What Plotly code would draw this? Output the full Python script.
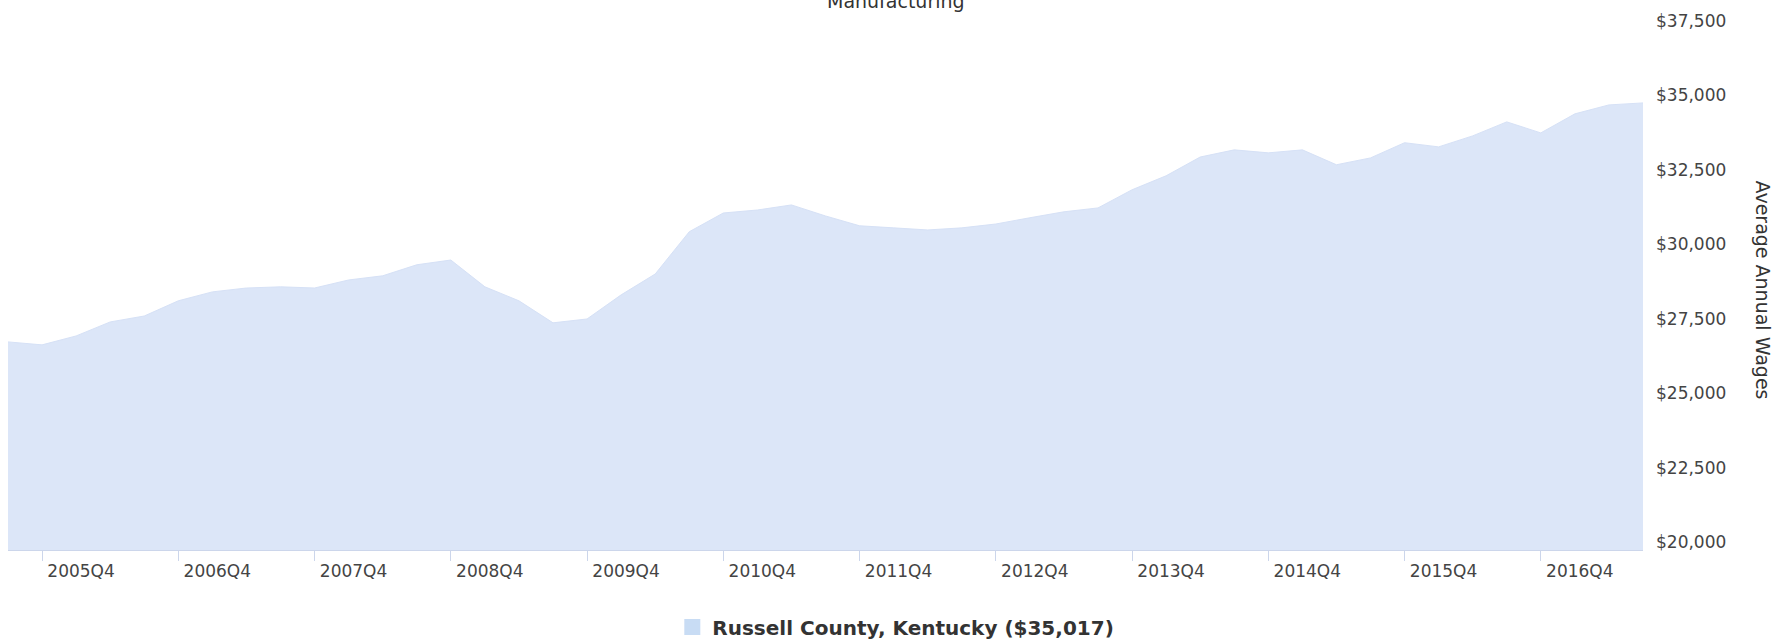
import plotly.graph_objects as go

# ---- data ----
quarters = [
    "2005Q3", "2005Q4", "2006Q1", "2006Q2", "2006Q3", "2006Q4", "2007Q1", "2007Q2",
    "2007Q3", "2007Q4", "2008Q1", "2008Q2", "2008Q3", "2008Q4", "2009Q1", "2009Q2",
    "2009Q3", "2009Q4", "2010Q1", "2010Q2", "2010Q3", "2010Q4", "2011Q1", "2011Q2",
    "2011Q3", "2011Q4", "2012Q1", "2012Q2", "2012Q3", "2012Q4", "2013Q1", "2013Q2",
    "2013Q3", "2013Q4", "2014Q1", "2014Q2", "2014Q3", "2014Q4", "2015Q1", "2015Q2",
    "2015Q3", "2015Q4", "2016Q1", "2016Q2", "2016Q3", "2016Q4", "2017Q1", "2017Q2",
    "2017Q3",
]
wages = [
    26990, 26890, 27190, 27660, 27860, 28370, 28670, 28800,
    28840, 28800, 29070, 29210, 29580, 29740, 28840, 28370,
    27630, 27760, 28570, 29270, 30690, 31320, 31420, 31590,
    31220, 30890, 30820, 30750, 30820, 30950, 31160, 31360,
    31490, 32100, 32570, 33200, 33440, 33340, 33440, 32940,
    33170, 33680, 33540, 33910, 34380, 34010, 34650, 34950,
    35017,
]
x_tick_labels = ["2005Q4", "2006Q4", "2007Q4", "2008Q4", "2009Q4", "2010Q4",
                 "2011Q4", "2012Q4", "2013Q4", "2014Q4", "2015Q4", "2016Q4"]
y_ticks = [20000, 22500, 25000, 27500, 30000, 32500, 35000, 37500]
series_name = "Russell County, Kentucky"
chart_title = "Manufacturing"
y_title = "Average Annual Wages"

FONT = "DejaVu Sans"
FILL = "#dce6f8"

fig = go.Figure()
fig.add_trace(go.Scatter(
    x=quarters, y=wages, mode="lines", fill="tozeroy",
    fillcolor=FILL, line=dict(color="#d6e1f6", width=1),
    showlegend=False, hoverinfo="x+y",
))
# legend entry
fig.add_trace(go.Scatter(
    x=[None], y=[None], mode="markers",
    marker=dict(symbol="square", size=17, color="#c8dcf4"),
    name=f"{series_name} (${wages[-1]:,})", showlegend=True,
))

fig.update_layout(
    width=1784, height=644,
    margin=dict(l=8, r=141, t=29, b=94, pad=0, autoexpand=False),
    paper_bgcolor="white", plot_bgcolor="white",
    font=dict(family=FONT, color="#444444", size=17),
    showlegend=True,
    legend=dict(
        orientation="h", x=0.543, xanchor="center", y=-0.148, yanchor="middle",
        font=dict(family=FONT, size=20, color="#333333", weight="bold"),
        itemwidth=30, bgcolor="rgba(0,0,0,0)",
    ),
    xaxis=dict(
        type="category", categoryorder="array", categoryarray=quarters,
        range=[0, len(quarters) - 1],
        tickmode="array", tickvals=x_tick_labels, ticktext=x_tick_labels,
        ticks="outside", ticklen=10, tickcolor="#ccd6eb", tickwidth=1,
        ticklabelshift=39, ticklabelstandoff=-4, automargin=False,
        showline=True, linecolor="#ccd6eb", linewidth=1,
        showgrid=False, zeroline=False,
        tickfont=dict(family=FONT, size=17, color="#444444"),
    ),
    yaxis=dict(
        side="right", range=[y_ticks[0], y_ticks[-1]],
        tickmode="array", tickvals=y_ticks,
        ticktext=[f"${v:,}" for v in y_ticks],
        ticks="", ticklabelstandoff=12, ticklabelshift=-8, automargin=False,
        showgrid=False, zeroline=False, showline=False,
        tickfont=dict(family=FONT, size=17, color="#444444"),
    ),
    annotations=[
        dict(text=chart_title, xref="paper", yref="paper",
             x=0.543, y=1.0537, xanchor="center", yanchor="middle",
             showarrow=False, font=dict(family=FONT, size=19, color="#333333")),
        dict(text=y_title, xref="paper", yref="paper",
             x=1.0, xshift=120, y=0.5, yshift=0, xanchor="center", yanchor="middle",
             textangle=90, showarrow=False,
             font=dict(family=FONT, size=19, color="#333333")),
    ],
)

fig.write_html(
    "out.html",
    config={"displayModeBar": False},
    post_script="document.body.style.margin='0';document.body.style.overflow='hidden';",
)
